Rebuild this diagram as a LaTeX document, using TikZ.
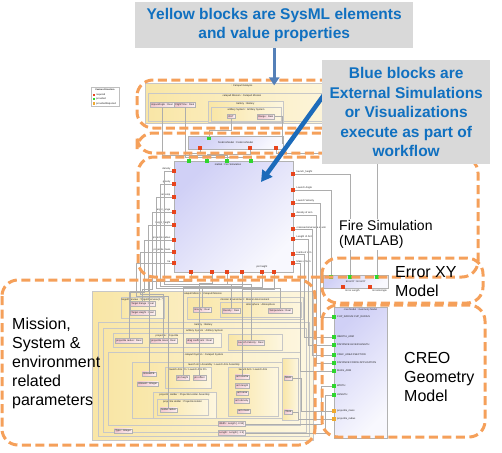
\documentclass[tikz,border=0pt]{standalone}
\usepackage{fontspec}
\setmainfont{Liberation Sans}
\usetikzlibrary{positioning,arrows.meta}

\definecolor{calloutgray}{HTML}{D9D9D9}
\definecolor{calloutblue}{HTML}{1070C0}
\definecolor{regionorange}{HTML}{F5A05A}
\definecolor{steelarrow}{HTML}{5480B8}
\definecolor{deeparrow}{HTML}{1C6BBA}
\definecolor{sysyellow}{HTML}{F9E6A6}
\definecolor{proppink}{HTML}{F2C6CE}
\definecolor{simblue}{HTML}{D0D0F6}
\definecolor{portred}{HTML}{E8441C}
\definecolor{portgreen}{HTML}{2ED62E}
\definecolor{portorange}{HTML}{F0AA30}

\tikzset{
  callout/.style={fill=calloutgray, text=calloutblue, font=\bfseries\fontsize{15.5}{19.5}\selectfont, align=center, inner sep=0pt},
  region/.style={draw=regionorange, line width=3pt, dash pattern=on 9pt off 4.5pt, rounded corners=16pt},
  biglabel/.style={font=\fontsize{16}{19}\selectfont, align=left, inner sep=1pt, anchor=west},
  yblock/.style={draw=black!22, line width=0.4pt, left color=sysyellow, right color=sysyellow!35!white},
  bblock/.style={draw=black!30, line width=0.4pt, inner sep=0pt, top color=simblue, bottom color=simblue!15!white, shading angle=45},
  mini/.style={font=\fontsize{2.5}{2.9}\selectfont, inner sep=0.5pt, text=black!85},
  prop/.style={mini, draw=black!30, line width=0.3pt, left color=proppink, right color=proppink!30!white, inner xsep=1.2pt, inner ysep=1.2pt, anchor=west},
  port/.style={minimum size=3.8pt, inner sep=0pt},
  wire/.style={draw=black!32, line width=0.35pt},
  steelarr/.style={draw=steelarrow, line width=3pt, -{Triangle[width=10pt,length=8pt]}},
  deeparr/.style={draw=deeparrow, line width=4.5pt, -{Triangle[width=12pt,length=11pt]}}
}

\begin{document}
\begin{tikzpicture}[x=1pt,y=-1pt]
\useasboundingbox (0,0) rectangle (502,452);

% Legend
\draw[black!25, line width=0.6pt] (91,87) rectangle (119,106);
\node[mini, font=\bfseries\fontsize{2.3}{2.8}\selectfont] (legend) at (105,90) {Feature Direction};
\foreach \c/\t [count=\i] in {portred/required, portgreen/provided, portorange/providedRequired}
{
  \node[port, fill=\c, minimum size=2.6pt] (leg\i) at (94,{90.5+4.3*\i}) {};
  \node[mini, anchor=west] (legt\i) at (leg\i.east) {\t};
}

% Catapult analysis
\draw[yblock] (145,83) rectangle (345,123);
\node[mini, below] (analysis) at (242,84) {: Catapult Analysis};
\draw[yblock] (148,93) rectangle (345,121);
\node[mini, below] (amission) at (242,94) {catapult Mission : Catapult Mission};
\node[prop] (impact) at (150,104.5) {impactAngle : Real};
\node[prop] (flight) at (impact.east) {FlightTime : Real};
\draw[yblock] (208,101) rectangle (283,122);
\node[mini, below] (abattery) at (245.5,101.5) {battery : Battery};
\draw[yblock] (211,107) rectangle (281,121);
\node[mini, below] (aartillery) at (246,107.5) {artillery System : Artillery System};
\node[prop] (out) at (227,116.5) {OUT};
\node[prop] (range) at (257,116.5) {Range : Real};

% Fire error model
\node[bblock, mini, minimum width=95pt, minimum height=13pt, anchor=north west] (fem) at (188,136) {fireErrorModel : FireErrorModel};
\node[port, fill=portgreen] (fe0) at (209,138.5) {};
\foreach \x [count=\i] in {200,250,276} {\node[port, fill=portred] (fe\i) at (\x,148) {};}

% Fire simulation (matlab)
\node[bblock, minimum width=119pt, minimum height=111pt, anchor=north west] (matlab) at (174,161) {};
\node[mini, below] (matlabt) at (228,163) {matlab : Fire Simulation};
\foreach \x [count=\i] in {189,207,227,251} {\node[port, fill=portgreen] (mt\i) at (\x,161) {};}
\foreach \x [count=\i] in {191,212,227,242,262,274} {\node[port, fill=portred] (mb\i) at (\x,272) {};}
\node[mini, anchor=south] (mbt5) at (262,269) {pin height};
\foreach \y/\t [count=\i] in {171/density, 184/gravity, 197/air temp, 212/target\_range, 225/target\_height, 240/projectile radius, 252/projectile mass, 263/ha}
{
  \node[port, fill=portred] (ml\i) at (174,\y) {};
  \node[mini, anchor=south east] (mlt\i) at (171,\y) {\t};
}
\foreach \y/\t [count=\i] in {174/launch\_height, 190/Launch Angle, 203/Launch Velocity, 215/density of arm, 229/crosssectional area of arm, 239/Length of Arm, 254/Inertia of arm, 263/Mass of Arm}
{
  \node[port, fill=portred] (mr\i) at (293,\y) {};
  \node[mini, anchor=south west] (mrt\i) at (296,\y) {\t};
}

% Error XY model
\node[bblock, mini, minimum width=65pt, minimum height=13pt, anchor=north west] (errxy) at (323,275) {ErrorXY : ErrorXY};
\foreach \x [count=\i] in {331,350,377} {\node[port, fill=portgreen] (exy\i) at (\x,277) {};}
\node[port, fill=portred] (exr1) at (343,287) {};
\node[port, fill=portred] (exr2) at (370,287) {};
\node[mini, anchor=west] (exrt1) at (345,290.5) {Error Length};
\node[mini, anchor=west] (exrt2) at (372,290.5) {ErrorInAngle};

% CREO geometry model
\node[bblock, minimum width=53pt, minimum height=131pt, anchor=north west] (creo) at (334,307) {};
\node[mini, below] (creot) at (360.5,308) {creo Model : Geometry Model};
\foreach \y/\t/\c [count=\i] in {317/CUP\_RADIUS:CUP\_RADIUS/portgreen, 337/INERTIA\_ARM/portgreen, 345/DISTANCE:LEVER:LENGTH/portgreen, 355/XSEC\_AREA:XSECTION/portgreen, 363/DISTANCE:FORCE:APPLICATION/portgreen, 371/MASS\_ARM/portgreen, 386/WIDTH/portgreen, 395/LENGTH/portgreen, 411/projectile\_mass/portorange, 419/projectile\_radius/portorange}
{
  \node[port, fill=\c] (cp\i) at (334,\y) {};
  \node[mini, anchor=west] (cpt\i) at (336.5,\y) {\t};
}

% Mission, system and environment blocks
\foreach \n/\xa/\ya/\xb/\yb/\t in {
  mis/92/291/313/440/catapult Mission : Catapult Mission,
  tgt/121/297/164/318/targetOverview : TargetOverview [1..*],
  env/187/297/303/319/mission Environment : Mission Environment,
  atm/220/302/301/317/atmosphere : Atmosphere,
  bat/98/322/309/436/battery : Battery,
  art/103/328/306/432/artillery System : Artillery System,
  prj/113/333/221/347/projectile : Projectile,
  cat/108/352/300/425/catapult System : Catapult System,
  arm/132/362/296/418/launch Arm Assembly : Launch Arm Assembly,
  pin/165/367/211/388/launch Arm Pin : Launch Arm Pin,
  lar/228/367/278/416/launch Arm : Launch Arm,
  pha/153/392/216/418/projectile Holder : Projectile Holder Assembly,
  phd/157/399/208/415/projectile Holder : Projectile Holder}
{
  \draw[yblock] (\xa,\ya) rectangle (\xb,\yb);
  \node[mini, below] (\n) at ({(\xa+\xb)/2},{\ya+0.5}) {\t};
}
\draw[yblock] (228,334) rectangle (282,350);
\draw[yblock] (282,358) rectangle (298,420);
\foreach \n/\x/\y/\t in {
  trange/130/304/Target Range : Real,
  theight/130/313/Target Height : Real,
  grav/193/310/Gravity : Real,
  dens/222/311/Density : Real,
  temp/268/311/Temperature : Real,
  prad/115/341/projectile radius : Real,
  pmass/150/341/projectile mass : Real,
  drag/186/341/drag coefficient : Real,
  lvel/237/343/Launch Velocity : Real,
  graves/142/374/GravesFE,
  amount/137/384/Amount : Integer,
  pinh/176/378/pin height,
  pino/193/378/pin offset,
  arminr/235/377/arm inertia,
  armlen/235/386/arm length,
  armarea/236/393/arm area,
  armden/234/401/arm density,
  armmass/237/411/arm mass,
  hrad/160/410/holder radius,
  mass/284/378/Mass,
  thick/284/412/Thick,
  width/218/424/Width : Length [..0.55],
  length/218/433/Length : Length [..1.5],
  type/114/431/Type : Integer}
{
  \node[prop] (\n) at (\x,\y) {\t};
}

% Wires
\draw[wire] (impact.south) -- (impact.south |- 0,155) -| (mt3.north);
\draw[wire] (flight.south) -- (flight.south |- 0,157) -| (mt4.north);
\draw[wire] (fe1.south) -- (fe1.south |- 0,153) -| (mt1.north);
\draw[wire] (fe2.south) -- (fe2.south |- 0,154.5) -| (mt2.north);
\draw[wire] (fe3.south) -- ++(0,3) -| (exy3.north);
\draw[wire] (fe0.north) -- (fe0.north |- 0,130) -| (out.south);
\draw[wire] (range.east) -- ++(8,0) |- (fem.east);
\foreach \tg [count=\i] in {dens.north, grav.north, temp.north, trange.north, theight.west, prad.north, pmass.north, hrad.north}
  \draw[wire] (ml\i.west) -| ({168-4*\i},{283+1.6*\i}) -| (\tg);
\draw[wire] (mr1.east) -| (exy2.north);
\draw[wire] (mr2.east) -| (exy1.north);
\foreach \a/\b/\lane in {3/1/320, 4/5/316, 5/4/312, 6/3/308, 7/2/304, 8/6/300}
  \draw[wire] (mr\a.east) -| (\lane,0 |- cp\b) -- (cp\b.west);
\foreach \tg [count=\i] in {graves.north, pino.north, lvel.north, drag.north, pinh.north, arminr.north}
  \draw[wire] (mb\i.south) -- ++(0,{6+1.5*\i}) -| (\tg);
\draw[wire] (mass.east) -- ++(8,0) |- (cp9.west);
\draw[wire] (thick.east) -- ++(5,0) |- (cp10.west);
\draw[wire] (width.east) -| (321,0 |- cp7) -- (cp7.west);
\draw[wire] (length.east) -| (325,0 |- cp8) -- (cp8.west);

% Regions
\draw[region] (137,80) rectangle (345,128);
\draw[region] (137,133) rectangle (345,153);
\draw[region] (138,157) rectangle (478,277);
\draw[region] (322,258) rectangle (483,303);
\draw[region] (322,305) rectangle (485,437);
\draw[region] (2,280) rectangle (315,445);

% Labels
\node[biglabel, fill=white, font=\fontsize{14}{15.5}\selectfont] (firelabel) at (338,234.5) {Fire Simulation\\(MATLAB)};
\node[biglabel] (errlabel) at (394,281.5) {Error XY\\Model};
\node[biglabel] (creolabel) at (403,377) {CREO\\Geometry\\Model};
\node[biglabel] (mislabel) at (11,363.5) {Mission,\\System \&\\environment\\related\\parameters};

% Callouts
\node[callout, minimum width=278pt, minimum height=46pt, anchor=north west] (yellownote) at (135,2) {Yellow blocks are SysML elements\\and value properties};
\draw[steelarr] (yellownote.south) -- ++(0,37);
\coordinate (bluetail) at (334,81);
\coordinate (bluehead) at (261,182);
\draw[deeparr] (bluetail) -- (bluehead);
\node[callout, minimum width=168pt, minimum height=104pt, anchor=north west] (bluenote) at (322,60) {Blue blocks are\\External Simulations\\or Visualizations\\execute as part of\\workflow};

\end{tikzpicture}
\end{document}
